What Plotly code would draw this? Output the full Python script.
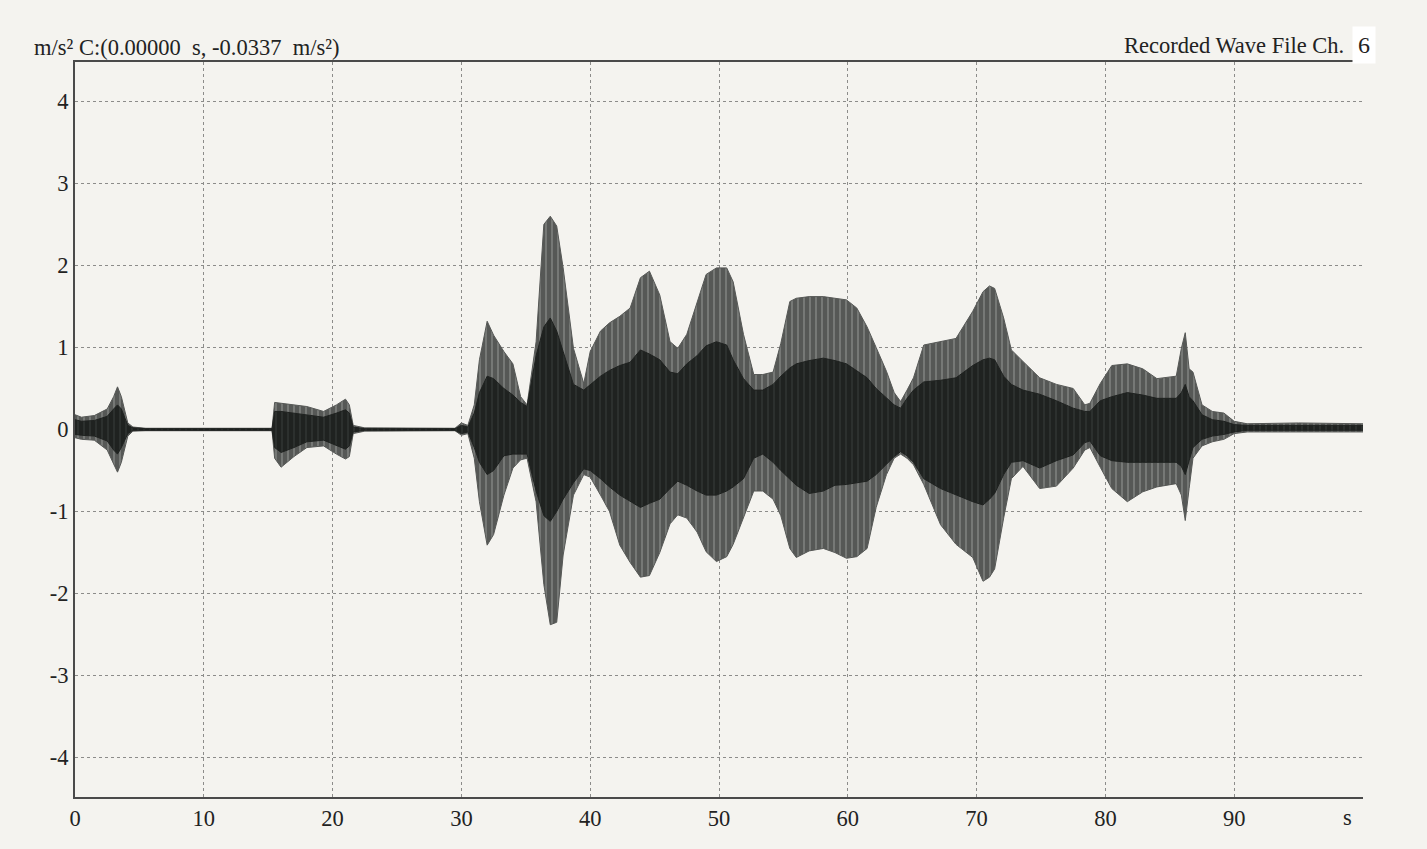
import plotly.graph_objects as go

# ---- data (envelope of the recorded acceleration) ----
time_s = [0, 0.5, 1.5, 2.5, 3.0, 3.3, 3.6, 4.1, 4.5, 5.5,
          15.3, 15.5, 16.0, 17.0, 18.0, 19.3, 20.3, 21.0, 21.3, 21.6, 22.5,
          29.5, 30.0, 30.5, 31.0, 31.4, 32.0, 32.5, 33.3, 34.0, 34.6, 35.1,
          35.8, 36.4, 36.9, 37.4, 37.9, 38.7, 39.5, 40.0, 40.8, 41.5, 42.3,
          43.1, 43.9, 44.6, 45.4, 46.2, 46.8, 47.5, 48.3, 49.0, 49.8, 50.6,
          51.1, 51.9, 52.7, 53.4, 54.2, 54.8, 55.5, 56.0, 57.0, 58.1, 59.0,
          59.9, 60.7, 61.5, 62.2, 63.0, 63.6, 64.1, 64.6, 65.1, 65.9, 67.2,
          68.4, 69.7, 70.5, 71.0, 71.4, 72.1, 72.7, 73.6, 74.9, 76.2, 77.5,
          78.4, 78.8, 79.6, 80.5, 81.7, 82.9, 84.0, 85.5, 85.9, 86.2, 86.5,
          86.8, 87.5, 88.3, 89.2, 90.0, 91.0, 95.0, 100]

outer_upper = [0.18, 0.15, 0.17, 0.25, 0.40, 0.52, 0.40, 0.08, 0.03, 0.015,
               0.015, 0.33, 0.32, 0.30, 0.28, 0.22, 0.30, 0.37, 0.30, 0.05, 0.02,
               0.015, 0.08, 0.05, 0.30, 0.85, 1.32, 1.15, 0.95, 0.80, 0.40, 0.30,
               1.07, 2.50, 2.60, 2.48, 1.97, 0.99, 0.56, 0.95, 1.20, 1.30, 1.38,
               1.48, 1.85, 1.93, 1.64, 1.07, 0.99, 1.16, 1.56, 1.89, 1.97, 1.97,
               1.80, 1.16, 0.67, 0.67, 0.70, 1.05, 1.56, 1.60, 1.62, 1.62, 1.60,
               1.58, 1.48, 1.25, 1.00, 0.71, 0.45, 0.34, 0.48, 0.63, 1.03, 1.07,
               1.11, 1.44, 1.68, 1.75, 1.72, 1.36, 0.97, 0.83, 0.63, 0.55, 0.50,
               0.30, 0.32, 0.56, 0.78, 0.80, 0.74, 0.62, 0.65, 0.99, 1.18, 0.74,
               0.70, 0.30, 0.22, 0.20, 0.10, 0.07, 0.08, 0.07]

outer_lower = [-0.10, -0.12, -0.13, -0.25, -0.42, -0.52, -0.40, -0.08, -0.02, -0.015,
               -0.015, -0.35, -0.46, -0.33, -0.22, -0.20, -0.30, -0.36, -0.33, -0.05, -0.02,
               -0.015, -0.07, -0.05, -0.35, -0.88, -1.41, -1.28, -0.80, -0.47, -0.37, -0.35,
               -0.88, -1.89, -2.38, -2.35, -1.53, -0.80, -0.55, -0.58, -0.80, -1.00, -1.41,
               -1.62, -1.80, -1.78, -1.50, -1.15, -1.04, -1.08, -1.25, -1.49, -1.61, -1.55,
               -1.40, -1.08, -0.75, -0.75, -0.85, -1.05, -1.45, -1.56, -1.48, -1.45, -1.50,
               -1.57, -1.55, -1.45, -0.95, -0.55, -0.35, -0.30, -0.35, -0.43, -0.67, -1.16,
               -1.40, -1.56, -1.85, -1.80, -1.70, -1.08, -0.60, -0.45, -0.72, -0.69, -0.47,
               -0.25, -0.22, -0.46, -0.72, -0.88, -0.76, -0.70, -0.66, -0.80, -1.11, -0.72,
               -0.35, -0.20, -0.15, -0.12, -0.05, -0.03, -0.03, -0.03]

inner_upper = [0.12, 0.10, 0.11, 0.16, 0.25, 0.30, 0.25, 0.05, 0.02, 0.01,
               0.01, 0.22, 0.22, 0.20, 0.18, 0.15, 0.20, 0.24, 0.20, 0.03, 0.01,
               0.01, 0.05, 0.03, 0.20, 0.45, 0.65, 0.62, 0.50, 0.42, 0.33, 0.28,
               0.90, 1.25, 1.36, 1.20, 0.95, 0.55, 0.48, 0.55, 0.65, 0.72, 0.78,
               0.82, 0.97, 0.92, 0.85, 0.70, 0.68, 0.80, 0.90, 1.02, 1.07, 1.03,
               0.85, 0.62, 0.48, 0.48, 0.55, 0.65, 0.75, 0.80, 0.84, 0.87, 0.84,
               0.80, 0.72, 0.63, 0.50, 0.38, 0.30, 0.26, 0.38, 0.48, 0.58, 0.60,
               0.63, 0.78, 0.85, 0.87, 0.85, 0.65, 0.55, 0.48, 0.43, 0.35, 0.26,
               0.22, 0.22, 0.35, 0.40, 0.45, 0.42, 0.38, 0.38, 0.45, 0.55, 0.40,
               0.35, 0.18, 0.12, 0.10, 0.06, 0.05, 0.05, 0.05]

inner_lower = [-0.06, -0.07, -0.08, -0.14, -0.25, -0.30, -0.22, -0.05, -0.01, -0.01,
               -0.01, -0.22, -0.28, -0.22, -0.15, -0.13, -0.20, -0.24, -0.20, -0.03, -0.01,
               -0.01, -0.05, -0.03, -0.22, -0.40, -0.55, -0.50, -0.32, -0.30, -0.30, -0.30,
               -0.75, -1.05, -1.12, -1.00, -0.85, -0.65, -0.48, -0.50, -0.60, -0.70, -0.80,
               -0.88, -0.95, -0.90, -0.85, -0.72, -0.63, -0.68, -0.75, -0.80, -0.80, -0.75,
               -0.70, -0.60, -0.35, -0.30, -0.40, -0.50, -0.60, -0.68, -0.78, -0.75, -0.68,
               -0.67, -0.65, -0.63, -0.55, -0.43, -0.33, -0.27, -0.32, -0.40, -0.60, -0.72,
               -0.80, -0.88, -0.92, -0.85, -0.78, -0.55, -0.40, -0.38, -0.47, -0.38, -0.31,
               -0.16, -0.14, -0.32, -0.38, -0.40, -0.40, -0.40, -0.40, -0.45, -0.55, -0.38,
               -0.22, -0.12, -0.08, -0.06, -0.03, -0.01, -0.01, -0.01]

x_ticks = [0, 10, 20, 30, 40, 50, 60, 70, 80, 90]
y_ticks = [-4, -3, -2, -1, 0, 1, 2, 3, 4]

title_left = "m/s² C:(0.00000  s, -0.0337  m/s²)"
title_right = "Recorded Wave File Ch."
channel = "6"
x_unit = "s"

# ---- styles ----
BG = "#f4f3ef"
OUTER = "#565856"
INNER = "#1f2220"
FONT = "Liberation Serif"
FS = 22.5

fig = go.Figure()
fig.add_trace(go.Scatter(x=time_s, y=outer_upper, mode="lines",
                         line=dict(color=OUTER, width=1), showlegend=False, hoverinfo="skip"))
fig.add_trace(go.Scatter(x=time_s, y=outer_lower, mode="lines",
                         line=dict(color=OUTER, width=1), fill="tonexty", fillcolor=OUTER,
                         fillpattern=dict(shape="|", fgcolor="#b0b1ae", bgcolor=OUTER,
                                          size=6, solidity=0.12, fillmode="replace"),
                         showlegend=False, hoverinfo="skip"))
fig.add_trace(go.Scatter(x=time_s, y=inner_upper, mode="lines",
                         line=dict(color=INNER, width=1), showlegend=False, hoverinfo="skip"))
fig.add_trace(go.Scatter(x=time_s, y=inner_lower, mode="lines",
                         line=dict(color=INNER, width=1), fill="tonexty", fillcolor=INNER,
                         fillpattern=dict(shape="|", fgcolor="#3c3f3d", bgcolor=INNER,
                                          size=6, solidity=0.15, fillmode="replace"),
                         showlegend=False, hoverinfo="skip"))

fig.update_layout(
    width=1427, height=849,
    margin=dict(l=75, r=64, t=62, b=52),
    paper_bgcolor=BG, plot_bgcolor=BG,
    font=dict(family=FONT, size=FS, color="#222222"),
    showlegend=False,
)
fig.update_xaxes(range=[0, 100], tickvals=x_ticks, ticktext=[str(v) for v in x_ticks],
                 showgrid=True, gridcolor="#8c8c8a", griddash="dot", gridwidth=1,
                 showline=True, linecolor="#4a4a4a", linewidth=2, mirror=True,
                 zeroline=False, ticks="", tickfont=dict(family=FONT, size=FS, color="#222222"))
fig.update_yaxes(range=[-4.48, 4.48], tickvals=y_ticks, ticktext=[str(v) for v in y_ticks],
                 showgrid=True, gridcolor="#8c8c8a", griddash="dot", gridwidth=1,
                 showline=True, linecolor="#4a4a4a", linewidth=2, mirror=False,
                 zeroline=False, ticks="", tickfont=dict(family=FONT, size=FS, color="#222222"))

fig.add_annotation(text=title_left, xref="paper", yref="paper", x=-0.0334, y=1.0204,
                   xanchor="left", yanchor="middle", showarrow=False,
                   font=dict(family=FONT, size=FS, color="#222222"))
fig.add_annotation(text=title_right, xref="paper", yref="paper", x=0.9865, y=1.023,
                   xanchor="right", yanchor="middle", showarrow=False,
                   font=dict(family=FONT, size=FS, color="#222222"))
fig.add_annotation(text=channel, xref="paper", yref="paper", x=1.0005, y=1.023,
                   xanchor="center", yanchor="middle", showarrow=False, bgcolor="#ffffff",
                   borderpad=5, font=dict(family=FONT, size=24, color="#222222"))
fig.add_annotation(text=x_unit, xref="x", yref="paper", x=98.8, y=0, yshift=-20,
                   xanchor="center", yanchor="middle", showarrow=False,
                   font=dict(family=FONT, size=FS, color="#222222"))

fig.write_html("out.html",
               config={"displayModeBar": False},
               post_script="document.body.style.margin='0';"
                           "document.body.style.background='" + BG + "';"
                           "document.body.style.overflow='hidden';")
